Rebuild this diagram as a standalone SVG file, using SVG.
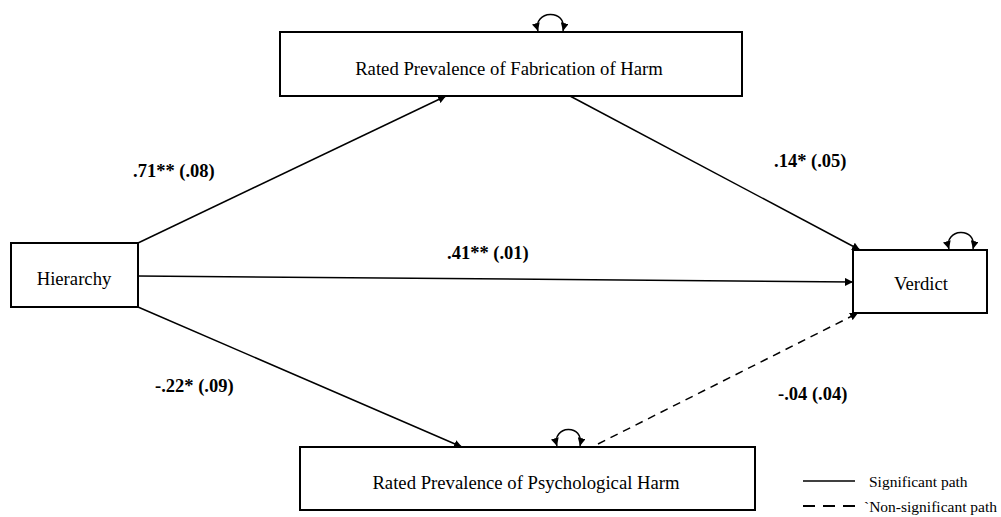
<svg xmlns="http://www.w3.org/2000/svg" width="1001" height="517" viewBox="0 0 1001 517">
<style>
.box{fill:#fff;stroke:#000;stroke-width:2}
text{font-family:'Liberation Serif','Times New Roman',Tinos,'Noto Serif','DejaVu Serif',serif}
.nt{font-size:18.7px;fill:#000;text-anchor:middle}
.lb{font-size:18.5px;font-weight:bold;fill:#000}
.lg{font-size:15.5px;fill:#000}
.ln{fill:none;stroke:#000;stroke-width:1.5}
.dash{stroke-dasharray:8 6}
</style>
<defs>
<marker id="ah" viewBox="0 0 10 10" refX="10" refY="5" markerWidth="8" markerHeight="8" markerUnits="userSpaceOnUse" orient="auto-start-reverse">
<path d="M0,0 L10,5 L0,10 z" fill="#000"/>
</marker>
</defs>
<rect width="1001" height="517" fill="#fff"/>
<g id="connectors">
<line class="ln" x1="138" y1="243" x2="446" y2="96" marker-end="url(#ah)"/>
<line class="ln" x1="138" y1="276" x2="853" y2="282" marker-end="url(#ah)"/>
<line class="ln" x1="138" y1="307" x2="462" y2="447" marker-end="url(#ah)"/>
<line class="ln" x1="570" y1="96" x2="860" y2="250" marker-end="url(#ah)"/>
<line class="ln dash" x1="598" y1="444" x2="858" y2="313" marker-end="url(#ah)"/>
<path class="ln" d="M538,31 C532,10 568,8 563,31" marker-start="url(#ah)" marker-end="url(#ah)"/>
<path class="ln" d="M557,446 C551,425 585,423 580,446" marker-start="url(#ah)" marker-end="url(#ah)"/>
<path class="ln" d="M949,249 C943,228 978,226 973,249" marker-start="url(#ah)" marker-end="url(#ah)"/>
</g>
<g id="node-fabrication">
<rect class="box" x="280" y="32" width="462" height="64"/>
<text class="nt" x="509" y="75">Rated Prevalence of Fabrication of Harm</text>
</g>
<g id="node-hierarchy">
<rect class="box" x="11" y="243" width="127" height="64"/>
<text class="nt" x="74" y="285">Hierarchy</text>
</g>
<g id="node-verdict">
<rect class="box" x="853" y="250" width="134" height="63"/>
<text class="nt" x="921" y="290">Verdict</text>
</g>
<g id="node-psychological">
<rect class="box" x="300" y="447" width="455" height="63"/>
<text class="nt" x="526" y="489">Rated Prevalence of Psychological Harm</text>
</g>
<g id="labels">
<text class="lb" x="133" y="177">.71** (.08)</text>
<text class="lb" x="774" y="167">.14* (.05)</text>
<text class="lb" x="447" y="259">.41** (.01)</text>
<text class="lb" x="155" y="392">-.22* (.09)</text>
<text class="lb" x="778" y="400">-.04 (.04)</text>
</g>
<g id="legend">
<line class="ln" x1="803" y1="481" x2="855" y2="481"/>
<text class="lg" x="869" y="487">Significant path</text>
<line class="ln dash" x1="803" y1="506" x2="855" y2="506" style="stroke-dasharray:12 8;stroke-width:2"/>
<text class="lg" x="864" y="512">`Non-significant path</text>
</g>
</svg>
